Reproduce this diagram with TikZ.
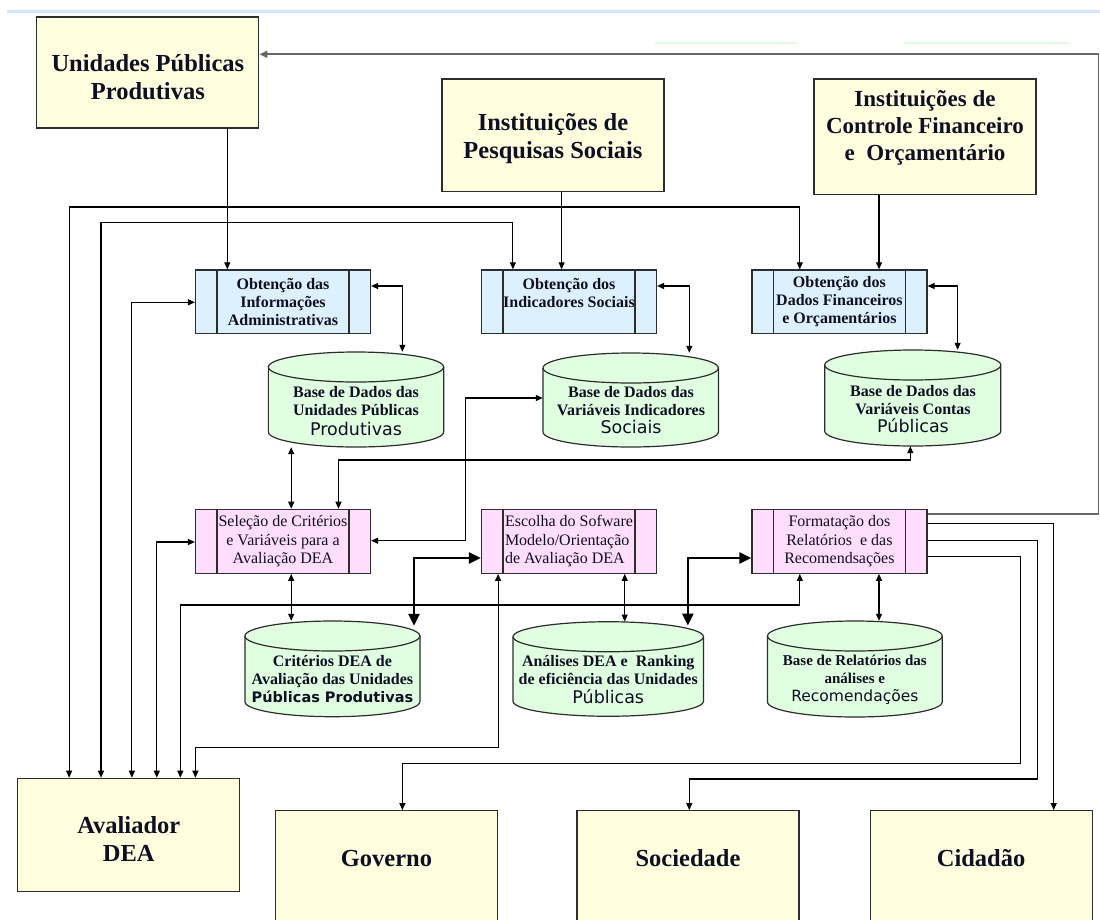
\documentclass[tikz,border=0pt]{standalone}
\usepackage{fontspec}
\setmainfont{Liberation Serif}
\newfontfamily\dvsans{DejaVu Sans}
\usetikzlibrary{arrows.meta,calc}
\definecolor{boxy}{RGB}{255,255,224}
\definecolor{boxb}{RGB}{221,241,252}
\definecolor{boxp}{RGB}{255,221,252}
\definecolor{boxg}{RGB}{224,255,224}
\definecolor{ink}{RGB}{15,15,35}
\definecolor{bordc}{RGB}{45,45,45}
\definecolor{topblue}{RGB}{214,228,250}
\definecolor{faintg}{RGB}{226,248,226}
\newcommand\cylserif{\fontsize{16}{18}\selectfont\bfseries}
\newcommand\cylsans{\dvsans\mdseries\fontsize{17.5}{20}\selectfont}
\newcommand\cylsansb{\dvsans\bfseries\fontsize{14.5}{18}\selectfont}
\newcommand\cylsansr{\dvsans\mdseries\fontsize{15.5}{18}\selectfont}
% cx cy w h rx
\newcommand\cylshape[5]{%
  \filldraw[cylsty] ({#1-#3/2},{#2-#4/2+15}) -- ({#1-#3/2},{#2+#4/2-15})
    arc[start angle=180,end angle=360,x radius=#5,y radius=15pt]
    -- ({#1+#3/2},{#2-#4/2+15})
    arc[start angle=0,end angle=180,x radius=#5,y radius=15pt] -- cycle;
  \draw[cylsty,fill=none] ({#1-#3/2},{#2-#4/2+15})
    arc[start angle=180,end angle=360,x radius=#5,y radius=15pt];}
\tikzset{
  bigbox/.style={draw=bordc, line width=1.2pt, fill=boxy, inner sep=0pt, minimum width=222pt},
  bigtext/.style={font=\fontsize{24.5}{28}\selectfont\bfseries, text=ink, align=center, inner sep=0pt},
  innerbars/.style={path picture={\draw[bordc, line width=1.2pt]
      ([xshift=21.5pt]path picture bounding box.north west) -- ([xshift=21.5pt]path picture bounding box.south west)
      ([xshift=-21.5pt]path picture bounding box.north east) -- ([xshift=-21.5pt]path picture bounding box.south east);}},
  procb/.style={draw=bordc, line width=1.2pt, fill=boxb, inner sep=0pt, minimum width=175pt, minimum height=63.5pt,
      align=center, text=ink, font=\fontsize{16}{18}\selectfont\bfseries, innerbars},
  procp/.style={draw=bordc, line width=1.2pt, fill=boxp, inner sep=0pt, minimum width=175pt, minimum height=64pt,
      align=center, text=ink, font=\fontsize{16}{18.7}\selectfont, innerbars},
  cylbox/.style={draw=none, fill=none, inner sep=0pt},
  cylsty/.style={draw=bordc, line width=1.2pt, fill=boxg},
  cyltext/.style={align=center, text=ink, inner sep=0pt, font=\cylserif},
  conn/.style={draw=black, line width=1.1pt},
  arrone/.style={conn, -{Triangle[length=7pt,width=6pt]}},
  arrtwo/.style={conn, {Triangle[length=7pt,width=6pt]}-{Triangle[length=7pt,width=6pt]}},
  bigarrow/.style={draw=black, line width=2.6pt, {Triangle[length=12pt,width=11pt]}-{Triangle[length=12pt,width=11pt]}},
  grayarr/.style={draw=black!60, line width=1.8pt, -{Triangle[length=8pt,width=7pt]}}
}
\begin{document}
\begin{tikzpicture}[x=1pt,y=-1pt]
\useasboundingbox (0,0) rectangle (1100,919);
\fill[white] (0,0) rectangle (1100,919);
\draw[topblue, line width=3pt] (7,11) -- (1100,11);
\draw[faintg, line width=1.2pt] (654.5,43) -- (795.6,43) (903.6,43) -- (1069,43);

% top boxes
\node[bigbox, minimum height=111pt] (upp) at (147.85,72.5) {};
\node[bigtext] (uppT) at (147.85,77.5) {Unidades Públicas\\Produtivas};
\node[bigbox, minimum height=112.7pt] (ips) at (553,135.35) {};
\node[bigtext] (ipsT) at (553,139) {Instituições de\\Pesquisas Sociais};
\node[bigbox, minimum height=115.3pt] (icfo) at (925,136.65) {};
\node[bigtext, font=\fontsize{23}{27}\selectfont\bfseries] (icfoT) at (925,127.5) {Instituições de\\Controle Financeiro\\e\ \ Orçamentário};

% process boxes row 1
\node[procb] (p1) at (283,301.65) {Obtenção das\\Informações\\Administrativas};
\node[procb] (p2) at (569,301.65) {Obtenção dos\\Indicadores Sociais\\\mbox{}};
\node[procb] (p3) at (839.4,301.65) {Obtenção dos\\Dados Financeiros\\e Orçamentários};

% cylinders row 1
\cylshape{356}{399.5}{175.3}{95}{87.65pt}
\node[cylbox, minimum width=175.3pt, minimum height=95pt] (c1) at (356,399.5) {};
\node[cyltext] (c1T) at (356,411) {Base de Dados das\\Unidades Públicas\\[2pt]{\cylsans Produtivas}};
\cylshape{630.7}{400}{175.4}{94}{87.7pt}
\node[cylbox, minimum width=175.4pt, minimum height=94pt] (c2) at (630.7,400) {};
\node[cyltext] (c2T) at (631,410.5) {Base de Dados das\\Variáveis Indicadores\\{\cylsans Sociais}};
\cylshape{912.75}{398}{176.1}{96}{88.05pt}
\node[cylbox, minimum width=176.1pt, minimum height=96pt] (c3) at (912.75,398) {};
\node[cyltext] (c3T) at (913,409) {Base de Dados das\\Variáveis Contas\\{\cylsans Públicas}};

% process boxes row 2
\node[procp] (s1) at (283,541.3) {Seleção de Critérios\\e Variáveis para a\\Avaliação DEA};
\node[procp, align=left] (s2) at (569,541.3) {Escolha do Sofware\\Modelo/Orientação\\de Avaliação DEA};
\node[procp] (s3) at (839.4,541.3) {Formatação dos\\Relatórios\ \ e das\\Recomendsações};

% cylinders row 2
\cylshape{332.4}{668.85}{175}{95.7}{87.5pt}
\node[cylbox, minimum width=175pt, minimum height=95.7pt] (d1) at (332.4,668.85) {};
\node[cyltext] (d1T) at (332.4,679) {Critérios DEA de\\Avaliação das Unidades\\{\cylsansb Públicas Produtivas}};
\cylshape{608.25}{669}{190.5}{94.5}{95.25pt}
\node[cylbox, minimum width=190.5pt, minimum height=94.5pt] (d2) at (608.25,669) {};
\node[cyltext] (d2T) at (608.25,680) {Análises DEA e\ \ Ranking\\de eficiência das Unidades\\[1pt]{\cylsans Públicas}};
\cylshape{854.85}{669}{174.7}{96}{87.35pt}
\node[cylbox, minimum width=174.7pt, minimum height=96pt] (d3) at (854.85,669) {};
\node[cyltext, font=\fontsize{15}{18}\selectfont\bfseries] (d3T) at (854.85,680) {Base de Relatórios das\\análises e\\{\cylsansr Recomendações}};

% bottom boxes
\node[bigbox, minimum height=113.4pt] (aval) at (128.75,835) {};
\node[bigtext] (avalT) at (128.75,839.5) {Avaliador\\DEA};
\node[bigbox, minimum height=120pt] (gov) at (386.4,870.7) {};
\node[bigtext] (govT) at (386.4,858) {Governo};
\node[bigbox, minimum height=120pt] (soc) at (688,870.7) {};
\node[bigtext] (socT) at (688,858) {Sociedade};
\node[bigbox, minimum height=120pt] (cid) at (981.1,870.7) {};
\node[bigtext] (cidT) at (981.1,858) {Cidadão};

% connectors
\draw[arrone] (upp.south -| 227.3,0) -- (p1.north -| 227.3,0);
\draw[arrone] (ips.south -| 561.6,0) -- (p2.north -| 561.6,0);
\draw[arrone] (icfo.south -| 879,0) -- (p3.north -| 879,0);
\draw[arrtwo] (aval.north -| 69.1,0) |- (799.8,207) -- (p3.north -| 799.8,0);
\draw[arrtwo] (aval.north -| 101,0) |- (512.9,222.7) -- (p2.north -| 512.9,0);
\draw[arrtwo] (aval.north -| 131.9,0) |- (p1.west |- 0,302.3);
\draw[arrtwo] (p1.east |- 0,286) -| (c1.north -| 402.4,0);
\draw[arrtwo] (p2.east |- 0,286) -| (c2.north -| 689.3,0);
\draw[arrtwo] (p3.east |- 0,286) -| (c3.north -| 957.6,0);
\draw[arrtwo] (c1.south -| 291.2,0) -- (s1.north -| 291.2,0);
\draw[arrtwo] (c3.south -| 910.3,0) |- (338.5,460) -- (s1.north -| 338.5,0);
\draw[arrtwo] (c2.west |- 0,398) -| (465.9,540.7) -- (s1.east |- 0,540.7);
\draw[arrtwo] (aval.north -| 156.8,0) |- (s1.west |- 0,542);
\draw[arrtwo] (s1.south -| 291.2,0) -- (d1.north -| 291.2,0);
\draw[arrtwo] (aval.north -| 180.3,0) |- (799.8,605) -- (s3.south -| 799.8,0);
\draw[arrtwo] (s2.south -| 498.1,0) |- (195.4,747.3) -- (aval.north -| 195.4,0);
\draw[arrtwo] (s2.south -| 624.7,0) -- (d2.north -| 624.7,0);
\draw[arrtwo] (s3.south -| 879,0) -- (d3.north -| 879,0);
\draw[bigarrow] ($(d1.north -| 414,0)+(0,5)$) |- (s2.west |- 0,558);
\draw[bigarrow] ($(d2.north -| 687.9,0)+(0,4)$) |- (s3.west |- 0,558);
\draw[arrone] (s3.east |- 0,523.3) -| (cid.north -| 1053.7,0);
\draw[arrone] (s3.east |- 0,540.7) -| (1037.3,779) -| (soc.north -| 689.3,0);
\draw[arrone] (s3.east |- 0,556.7) -| (1020.8,763.3) -| (gov.north -| 402.4,0);
\draw[grayarr] (s3.east |- 0,514) -| (1098.5,54.3) -- (upp.east |- 0,54.3);
\end{tikzpicture}
\end{document}
